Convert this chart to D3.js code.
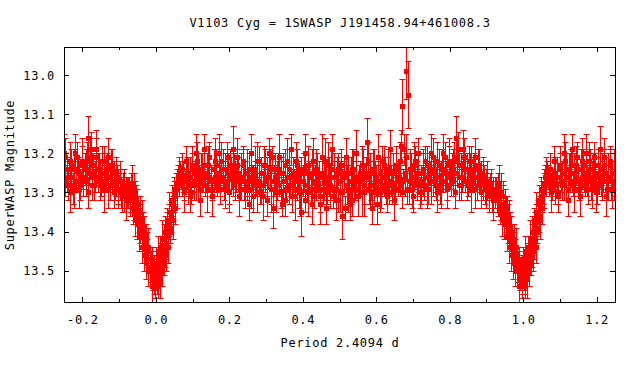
<!DOCTYPE html>
<html><head><meta charset="utf-8">
<script src="https://cdn.jsdelivr.net/npm/d3@7"></script>
<style>body{margin:0;background:#fff}svg{display:block}</style>
</head><body>
<svg id="c" width="640" height="384"></svg>
<script>
// Phase-folded SuperWASP photometry (base cycle 0..1)
const phase = [
0.001,0.003,0.005,0.007,0.009,0.011,0.013,0.015,0.017,0.019,
0.021,0.023,0.025,0.027,0.029,0.031,0.033,0.035,0.038,0.040,
0.042,0.044,0.047,0.050,0.053,0.056,0.059,0.062,0.065,0.068,
0.071,0.074,0.078,0.081,0.085,0.088,0.092,0.095,0.099,0.103,
0.106,0.110,0.113,0.117,0.121,0.124,0.128,0.131,0.135,0.139,
0.142,0.146,0.149,0.153,0.157,0.160,0.164,0.167,0.171,0.175,
0.178,0.182,0.185,0.189,0.193,0.196,0.200,0.203,0.207,0.211,
0.214,0.218,0.221,0.225,0.229,0.232,0.236,0.239,0.243,0.247,
0.250,0.254,0.258,0.261,0.265,0.269,0.272,0.276,0.280,0.284,
0.287,0.291,0.295,0.298,0.302,0.306,0.310,0.313,0.317,0.321,
0.325,0.328,0.332,0.336,0.340,0.343,0.347,0.351,0.355,0.358,
0.362,0.366,0.370,0.373,0.377,0.381,0.385,0.388,0.392,0.396,
0.400,0.403,0.407,0.411,0.415,0.418,0.422,0.426,0.430,0.433,
0.437,0.441,0.445,0.448,0.452,0.456,0.460,0.463,0.467,0.471,
0.475,0.478,0.482,0.486,0.490,0.493,0.497,0.501,0.505,0.508,
0.512,0.516,0.520,0.523,0.527,0.531,0.535,0.538,0.542,0.546,
0.550,0.553,0.557,0.561,0.565,0.568,0.572,0.576,0.580,0.583,
0.587,0.591,0.595,0.598,0.602,0.606,0.610,0.613,0.617,0.621,
0.625,0.628,0.632,0.636,0.640,0.643,0.647,0.651,0.655,0.658,
0.662,0.665,0.668,0.671,0.674,0.676,0.679,0.681,0.684,0.687,
0.690,0.694,0.698,0.702,0.706,0.710,0.714,0.718,0.722,0.726,
0.730,0.734,0.738,0.742,0.746,0.750,0.754,0.758,0.762,0.766,
0.770,0.774,0.778,0.782,0.786,0.790,0.794,0.798,0.802,0.806,
0.810,0.813,0.816,0.819,0.823,0.826,0.830,0.834,0.838,0.842,
0.846,0.850,0.854,0.858,0.862,0.866,0.870,0.874,0.878,0.882,
0.886,0.890,0.894,0.898,0.902,0.906,0.910,0.914,0.918,0.922,
0.926,0.929,0.932,0.935,0.938,0.941,0.944,0.947,0.950,0.953,
0.956,0.959,0.962,0.965,0.968,0.971,0.974,0.977,0.980,0.983,
0.986,0.989,0.992,0.995,0.998
];
const mag = [
13.52,13.49,13.54,13.47,13.50,13.51,13.46,13.49,13.44,13.47,
13.45,13.42,13.46,13.40,13.43,13.38,13.41,13.37,13.39,13.35,
13.36,13.33,13.34,13.31,13.30,13.28,13.26,13.27,13.25,13.26,
13.28,13.26,13.29,13.27,13.25,13.28,13.26,13.30,13.24,13.27,
13.25,13.28,13.22,13.26,13.29,13.24,13.27,13.23,13.28,13.25,
13.26,13.21,13.27,13.29,13.24,13.26,13.23,13.28,13.25,13.27,
13.22,13.26,13.29,13.24,13.27,13.25,13.30,13.23,13.26,13.28,
13.24,13.27,13.21,13.25,13.29,13.26,13.23,13.27,13.25,13.28,
13.27,13.24,13.29,13.26,13.31,13.25,13.28,13.22,13.27,13.30,
13.25,13.28,13.23,13.27,13.32,13.26,13.24,13.29,13.21,13.27,
13.26,13.30,13.24,13.28,13.25,13.33,13.27,13.23,13.29,13.26,
13.24,13.28,13.31,13.25,13.27,13.22,13.29,13.26,13.30,13.24,
13.27,13.25,13.32,13.28,13.23,13.26,13.29,13.25,13.31,13.27,
13.24,13.28,13.26,13.33,13.25,13.29,13.22,13.27,13.30,13.26,
13.28,13.24,13.31,13.26,13.29,13.25,13.32,13.27,13.23,13.30,
13.26,13.34,13.28,13.25,13.30,13.27,13.32,13.24,13.29,13.26,
13.31,13.27,13.25,13.30,13.23,13.28,13.26,13.17,13.29,13.25,
13.28,13.24,13.30,13.26,13.33,13.27,13.25,13.29,13.22,13.28,
13.26,13.31,13.24,13.28,13.27,13.30,13.25,13.29,13.23,13.27,
13.26,13.28,13.18,13.08,13.27,13.19,13.25,12.99,13.29,13.05,
13.27,13.24,13.29,13.26,13.22,13.28,13.25,13.30,13.27,13.24,
13.28,13.26,13.23,13.29,13.25,13.20,13.27,13.24,13.28,13.22,
13.26,13.29,13.24,13.27,13.21,13.25,13.28,13.23,13.26,13.24,
13.27,13.22,13.16,13.25,13.19,13.28,13.23,13.26,13.21,13.27,
13.24,13.28,13.25,13.22,13.27,13.24,13.29,13.26,13.23,13.27,
13.25,13.28,13.26,13.29,13.27,13.30,13.28,13.31,13.29,13.30,
13.29,13.31,13.28,13.32,13.30,13.34,13.31,13.35,13.33,13.37,
13.35,13.39,13.37,13.41,13.40,13.43,13.42,13.45,13.44,13.47,
13.49,13.47,13.51,13.50,13.53
];
const err = [
0.03,0.04,0.03,0.03,0.04,0.03,0.03,0.05,0.03,0.04,
0.03,0.04,0.03,0.03,0.04,0.03,0.03,0.04,0.03,0.03,
0.04,0.03,0.03,0.04,0.03,0.03,0.03,0.04,0.03,0.03,
0.03,0.04,0.03,0.03,0.04,0.03,0.05,0.03,0.04,0.03,
0.03,0.04,0.05,0.03,0.03,0.04,0.03,0.04,0.03,0.05,
0.03,0.04,0.03,0.03,0.05,0.03,0.04,0.03,0.03,0.04,
0.05,0.03,0.03,0.04,0.03,0.05,0.03,0.04,0.03,0.03,
0.04,0.03,0.05,0.04,0.03,0.03,0.04,0.05,0.03,0.04,
0.03,0.04,0.05,0.03,0.04,0.03,0.03,0.05,0.04,0.03,
0.04,0.03,0.05,0.03,0.04,0.03,0.05,0.04,0.03,0.04,
0.03,0.05,0.04,0.03,0.04,0.03,0.05,0.04,0.03,0.04,
0.05,0.03,0.04,0.04,0.03,0.05,0.03,0.04,0.06,0.03,
0.04,0.05,0.03,0.04,0.05,0.03,0.04,0.06,0.03,0.04,
0.05,0.03,0.04,0.05,0.03,0.04,0.06,0.04,0.03,0.05,
0.04,0.05,0.03,0.04,0.05,0.04,0.03,0.05,0.04,0.06,
0.04,0.03,0.05,0.04,0.03,0.06,0.04,0.05,0.03,0.04,
0.05,0.04,0.03,0.06,0.04,0.05,0.03,0.06,0.04,0.05,
0.04,0.05,0.03,0.04,0.05,0.04,0.03,0.05,0.04,0.03,
0.05,0.04,0.03,0.05,0.04,0.03,0.05,0.04,0.03,0.04,
0.04,0.03,0.04,0.07,0.03,0.04,0.05,0.07,0.04,0.085,
0.03,0.04,0.05,0.03,0.04,0.03,0.05,0.04,0.03,0.04,
0.04,0.03,0.05,0.04,0.03,0.05,0.04,0.03,0.04,0.05,
0.03,0.04,0.05,0.03,0.04,0.03,0.04,0.05,0.03,0.04,
0.04,0.05,0.055,0.03,0.045,0.04,0.03,0.04,0.05,0.03,
0.04,0.03,0.05,0.04,0.03,0.04,0.05,0.03,0.04,0.03,
0.03,0.04,0.03,0.05,0.03,0.04,0.03,0.04,0.03,0.04,
0.03,0.04,0.03,0.04,0.03,0.03,0.04,0.03,0.04,0.03,
0.04,0.03,0.05,0.03,0.04,0.03,0.04,0.03,0.05,0.03,
0.04,0.03,0.04,0.03,0.04
];
// second block of observations (noisier nights)
const phase2 = [
0.000,0.004,0.006,0.010,0.012,0.016,0.018,0.022,0.024,0.028,
0.030,0.034,0.036,0.039,0.043,0.046,0.049,0.052,0.057,0.063,
0.072,0.077,0.083,0.088,0.094,0.099,0.105,0.110,0.116,0.121,
0.127,0.132,0.138,0.143,0.149,0.154,0.160,0.165,0.171,0.176,
0.182,0.187,0.193,0.198,0.204,0.209,0.215,0.220,0.226,0.231,
0.237,0.242,0.248,0.253,0.259,0.264,0.270,0.275,0.281,0.286,
0.292,0.297,0.303,0.308,0.314,0.319,0.325,0.330,0.336,0.341,
0.347,0.352,0.358,0.363,0.369,0.374,0.380,0.385,0.391,0.396,
0.402,0.407,0.413,0.418,0.424,0.429,0.435,0.440,0.446,0.451,
0.457,0.462,0.468,0.473,0.479,0.484,0.490,0.495,0.501,0.506,
0.512,0.517,0.523,0.528,0.534,0.539,0.545,0.550,0.556,0.561,
0.567,0.572,0.578,0.583,0.589,0.594,0.600,0.605,0.611,0.616,
0.622,0.627,0.633,0.638,0.644,0.649,0.655,0.660,0.666,0.671,
0.677,0.682,0.688,0.693,0.699,0.704,0.710,0.715,0.721,0.726,
0.732,0.737,0.743,0.748,0.754,0.759,0.765,0.770,0.776,0.781,
0.787,0.792,0.798,0.803,0.809,0.814,0.820,0.825,0.831,0.836,
0.842,0.847,0.853,0.858,0.864,0.869,0.875,0.880,0.886,0.891,
0.897,0.902,0.908,0.913,0.919,0.924,
0.931,0.934,0.937,0.940,0.943,0.946,0.949,0.952,0.955,0.958,
0.961,0.964,0.967,0.970,0.973,0.976,0.979,0.984,0.990,0.996
];
const mag2 = [
13.48,13.53,13.45,13.52,13.44,13.50,13.42,13.48,13.40,13.45,
13.37,13.44,13.35,13.40,13.32,13.37,13.29,13.34,13.29,13.25,
13.24,13.30,13.22,13.27,13.31,13.23,13.28,13.20,13.26,13.32,
13.25,13.19,13.29,13.23,13.27,13.31,13.22,13.26,13.20,13.29,
13.24,13.28,13.21,13.30,13.25,13.19,13.27,13.23,13.31,13.26,
13.22,13.29,13.25,13.33,13.20,13.27,13.24,13.30,13.22,13.28,
13.31,13.23,13.26,13.20,13.29,13.34,13.24,13.27,13.21,13.30,
13.25,13.32,13.22,13.28,13.19,13.26,13.31,13.23,13.29,13.35,
13.24,13.20,13.30,13.26,13.33,13.22,13.28,13.25,13.31,13.21,
13.27,13.34,13.23,13.29,13.19,13.26,13.32,13.24,13.30,13.36,
13.25,13.21,13.29,13.33,13.24,13.28,13.20,13.31,13.26,13.23,
13.30,13.25,13.22,13.28,13.34,13.24,13.27,13.21,13.30,13.26,
13.23,13.29,13.25,13.19,13.28,13.32,13.24,13.27,13.22,13.30,
13.26,13.21,13.29,13.24,13.31,13.23,13.27,13.20,13.28,13.25,
13.22,13.29,13.24,13.27,13.21,13.26,13.30,13.23,13.28,13.20,
13.25,13.29,13.22,13.27,13.24,13.30,13.21,13.26,13.28,13.19,
13.24,13.27,13.22,13.29,13.25,13.21,13.28,13.24,13.30,13.26,
13.29,13.27,13.31,13.28,13.32,13.30,
13.32,13.28,13.34,13.30,13.37,13.33,13.38,13.36,13.41,13.38,
13.44,13.40,13.46,13.43,13.48,13.45,13.50,13.49,13.54,13.51
];
const err2 = [
0.04,0.03,0.04,0.05,0.03,0.04,0.05,0.03,0.04,0.05,
0.03,0.04,0.05,0.03,0.04,0.05,0.03,0.04,0.05,0.04,
0.04,0.05,0.04,0.06,0.04,0.05,0.04,0.05,0.06,0.04,
0.05,0.04,0.06,0.05,0.04,0.05,0.06,0.04,0.05,0.04,
0.05,0.06,0.04,0.05,0.04,0.06,0.05,0.04,0.05,0.06,
0.04,0.05,0.06,0.04,0.05,0.04,0.06,0.05,0.04,0.05,
0.06,0.04,0.05,0.04,0.06,0.05,0.04,0.05,0.06,0.04,
0.05,0.04,0.06,0.05,0.04,0.05,0.06,0.04,0.05,0.06,
0.04,0.05,0.06,0.04,0.05,0.06,0.04,0.05,0.04,0.06,
0.05,0.04,0.06,0.05,0.04,0.06,0.05,0.04,0.05,0.06,
0.04,0.05,0.06,0.04,0.05,0.04,0.06,0.05,0.04,0.05,
0.06,0.04,0.05,0.06,0.04,0.05,0.04,0.06,0.05,0.04,
0.05,0.04,0.06,0.05,0.04,0.05,0.06,0.04,0.05,0.04,
0.05,0.06,0.04,0.05,0.04,0.06,0.05,0.04,0.05,0.06,
0.04,0.05,0.04,0.06,0.05,0.04,0.05,0.04,0.06,0.05,
0.04,0.05,0.06,0.04,0.05,0.04,0.05,0.06,0.04,0.05,
0.04,0.05,0.04,0.06,0.04,0.05,0.04,0.05,0.04,0.05,
0.04,0.05,0.04,0.04,0.05,0.04,
0.04,0.05,0.04,0.05,0.04,0.05,0.04,0.05,0.04,0.05,
0.04,0.05,0.04,0.05,0.04,0.05,0.04,0.05,0.04,0.05
];
const xMajor = [-0.2, 0.0, 0.2, 0.4, 0.6, 0.8, 1.0, 1.2];
const xMinor = [-0.1, 0.1, 0.3, 0.5, 0.7, 0.9, 1.1];
const yMajor = [13.0, 13.1, 13.2, 13.3, 13.4, 13.5];
const titleText = "V1103 Cyg = 1SWASP J191458.94+461008.3";
const xLabel = "Period 2.4094 d";
const yLabel = "SuperWASP Magnitude";

const L = 64, R = 615, T = 47, B = 302;
const FONT = "'DejaVu Sans Mono', 'Liberation Mono', monospace";
const svg = d3.select("#c");
const x = d3.scaleLinear().domain([-0.25, 1.25]).range([L, R]);
const y = d3.scaleLinear().domain([12.928, 13.580]).range([T, B]);

// folded points, repeated outside 0..1 as in the plot window
const pts = [];
function addSet(ph, mg, er) {
  ph.forEach((p, i) => {
    pts.push({p: p, m: mg[i], e: er[i]});
    if (p >= 0.75) pts.push({p: p - 1, m: mg[i], e: er[i]});
    if (p < 0.25) pts.push({p: p + 1, m: mg[i], e: er[i]});
  });
}
addSet(phase, mag, err);
addSet(phase2, mag2, err2);

svg.append("defs").append("clipPath").attr("id", "clip")
  .append("rect").attr("x", L).attr("y", T).attr("width", R - L).attr("height", B - T);

const g = svg.append("g").attr("clip-path", "url(#clip)");
const col = "#ff0000";
const cap = 3, half = 2.5;
const eb = g.selectAll("g.pt").data(pts).join("g").attr("class", "pt");
eb.append("path")
  .attr("d", d => {
    const px = Math.round(x(d.p)) + 0.5, y1 = Math.round(y(d.m - d.e)) + 0.5, y2 = Math.round(y(d.m + d.e)) + 0.5;
    return `M${px},${y1}V${y2}M${px - cap},${y1}H${px + cap}M${px - cap},${y2}H${px + cap}`;
  })
  .attr("stroke", col).attr("stroke-width", 1).attr("fill", "none");
eb.append("rect")
  .attr("x", d => Math.round(x(d.p)) + 0.5 - half)
  .attr("y", d => Math.round(y(d.m)) + 0.5 - half)
  .attr("width", 2 * half).attr("height", 2 * half)
  .attr("fill", col);

function fmt(v) { return (v < 0 ? "-" : "") + Math.abs(v).toFixed(1); }

function styleAxis(sel) {
  sel.select(".domain").remove();
  sel.selectAll("line").attr("stroke", "#000").attr("shape-rendering", "crispEdges");
  sel.selectAll("text").attr("font-family", FONT).attr("font-size", 12).attr("fill", "#000").attr("letter-spacing", "0.7px");
}

svg.append("g").attr("transform", `translate(0,${B})`)
  .call(d3.axisBottom(x).tickValues(xMajor).tickSize(-5).tickPadding(13).tickFormat(fmt)).call(styleAxis);
svg.append("g").attr("transform", `translate(0,${B})`)
  .call(d3.axisBottom(x).tickValues(xMinor).tickSize(-3).tickFormat("")).call(styleAxis);
svg.append("g").attr("transform", `translate(0,${T})`)
  .call(d3.axisTop(x).tickValues(xMajor).tickSize(-5).tickFormat("")).call(styleAxis);
svg.append("g").attr("transform", `translate(0,${T})`)
  .call(d3.axisTop(x).tickValues(xMinor).tickSize(-3).tickFormat("")).call(styleAxis);
svg.append("g").attr("transform", `translate(${L},0)`)
  .call(d3.axisLeft(y).tickValues(yMajor).tickSize(-5).tickPadding(9).tickFormat(fmt)).call(styleAxis);
svg.append("g").attr("transform", `translate(${R},0)`)
  .call(d3.axisRight(y).tickValues(yMajor).tickSize(-5).tickFormat("")).call(styleAxis);

svg.append("rect").attr("x", L + 0.5).attr("y", T + 0.5).attr("width", R - L).attr("height", B - T)
  .attr("fill", "none").attr("stroke", "#000").attr("stroke-width", 1);

svg.append("text").attr("x", 340).attr("y", 27).attr("text-anchor", "middle")
  .attr("font-family", FONT).attr("font-size", 12).attr("letter-spacing", "0.7px").text(titleText);
svg.append("text").attr("x", 340).attr("y", 347).attr("text-anchor", "middle")
  .attr("font-family", FONT).attr("font-size", 12).attr("letter-spacing", "0.7px").text(xLabel);
svg.append("text").attr("transform", "translate(14,175) rotate(-90)").attr("text-anchor", "middle")
  .attr("font-family", FONT).attr("font-size", 12).attr("letter-spacing", "0.7px").text(yLabel);
</script>
</body></html>
